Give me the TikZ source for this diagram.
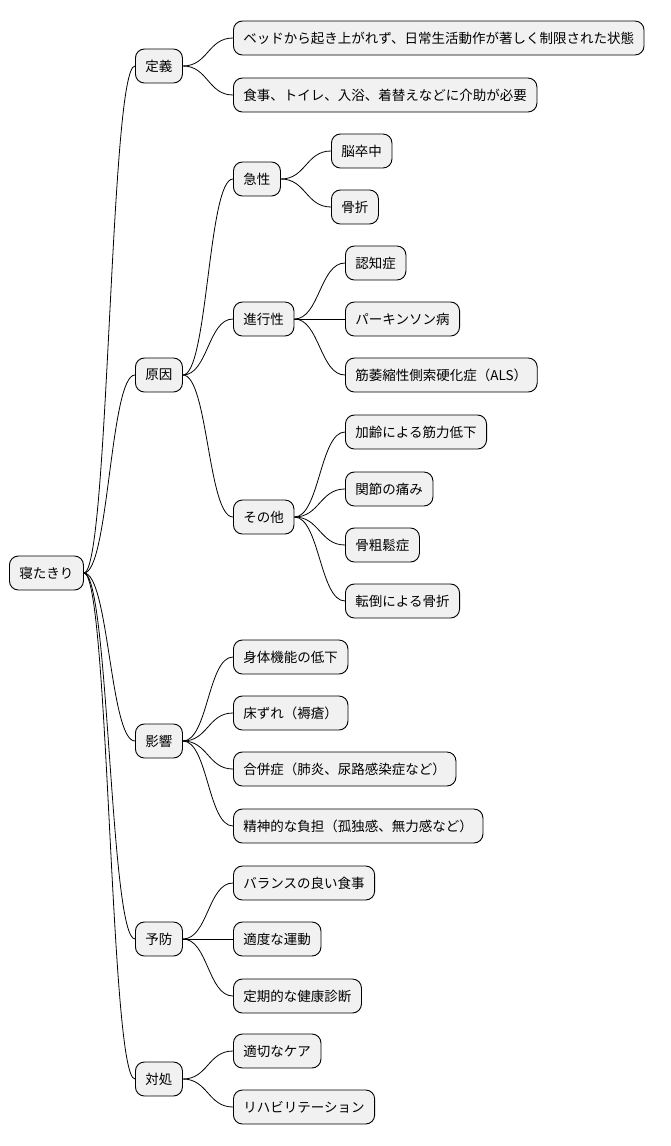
\documentclass[tikz,border=0pt]{standalone}
\usepackage{fontspec}
\setmainfont{Noto Sans CJK JP}
\begin{document}
\begin{tikzpicture}[x=1pt,y=-1pt,
  n/.style={draw=black,line width=0.9pt,fill={rgb,255:red,241;green,241;blue,241},rounded corners=9pt,anchor=west,minimum height=34pt,inner xsep=10pt,inner ysep=0pt,font=\fontsize{13.5pt}{16pt}\selectfont},
  e/.style={line width=0.8pt}]
\useasboundingbox (0,0) rectangle (670,1146);
\node[n] (r) at (9,573) {寝たきり};
\node[n] (a) at (135,66) {定義};
\node[n] (b) at (135,375) {原因};
\node[n] (c) at (135,741) {影響};
\node[n] (d) at (135,939) {予防};
\node[n] (f) at (135,1079) {対処};
\node[n] (a1) at (233,38) {ベッドから起き上がれず、日常生活動作が著しく制限された状態};
\node[n] (a2) at (233,95) {食事、トイレ、入浴、着替えなどに介助が必要};
\node[n] (b1) at (233,179) {急性};
\node[n] (b2) at (233,319) {進行性};
\node[n] (b3) at (233,517) {その他};
\node[n] (b11) at (331,151) {脳卒中};
\node[n] (b12) at (331,207) {骨折};
\node[n] (b21) at (345,263) {認知症};
\node[n] (b22) at (345,319) {パーキンソン病};
\node[n] (b23) at (345,375) {筋萎縮性側索硬化症（ALS）};
\node[n] (b31) at (345,432) {加齢による筋力低下};
\node[n] (b32) at (345,489) {関節の痛み};
\node[n] (b33) at (345,545) {骨粗鬆症};
\node[n] (b34) at (345,601) {転倒による骨折};
\node[n] (c1) at (233,657) {身体機能の低下};
\node[n] (c2) at (233,713) {床ずれ（褥瘡）};
\node[n] (c3) at (233,769) {合併症（肺炎、尿路感染症など）};
\node[n] (c4) at (233,826) {精神的な負担（孤独感、無力感など）};
\node[n] (d1) at (233,883) {バランスの良い食事};
\node[n] (d2) at (233,939) {適度な運動};
\node[n] (d3) at (233,996) {定期的な健康診断};
\node[n] (f1) at (233,1051) {適切なケア};
\node[n] (f2) at (233,1107) {リハビリテーション};
\foreach \p/\c in {r/a,r/b,r/c,r/d,r/f,a/a1,a/a2,b/b1,b/b2,b/b3,b1/b11,b1/b12,b2/b21,b2/b22,b2/b23,b3/b31,b3/b32,b3/b33,b3/b34,c/c1,c/c2,c/c3,c/c4,d/d1,d/d2,d/d3,f/f1,f/f2}
  \draw[e] (\p.east) .. controls +(25,0) and +(-25,0) .. (\c.west);
\end{tikzpicture}
\end{document}
